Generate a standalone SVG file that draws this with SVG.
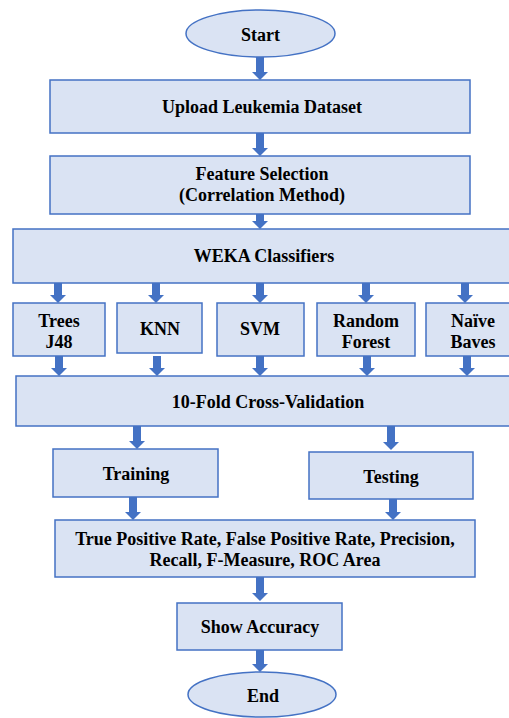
<svg xmlns="http://www.w3.org/2000/svg" width="509" height="718" viewBox="0 0 509 718">
<rect width="509" height="718" fill="#fff"/>
<g fill="#DAE3F3" stroke="#4472C4" stroke-width="1.5">
<g id="start"><ellipse cx="260.5" cy="33.5" rx="74.5" ry="23.5"/></g>
<g id="upload"><rect x="50" y="80" width="420" height="53"/></g>
<g id="feature"><rect x="50" y="156" width="420" height="58"/></g>
<g id="weka"><rect x="13" y="229" width="505" height="54"/></g>
<g id="trees"><rect x="13" y="303" width="92" height="53"/></g>
<g id="knn"><rect x="117" y="303" width="85" height="50"/></g>
<g id="svm"><rect x="217" y="303" width="87" height="53"/></g>
<g id="rf"><rect x="317" y="303" width="98" height="53"/></g>
<g id="nb"><rect x="426" y="303" width="92" height="53"/></g>
<g id="cv"><rect x="16" y="376" width="502" height="50"/></g>
<g id="training"><rect x="53" y="449" width="165" height="48"/></g>
<g id="testing"><rect x="309" y="452" width="164" height="47"/></g>
<g id="metrics"><rect x="55" y="520" width="420" height="57"/></g>
<g id="accuracy"><rect x="177" y="603" width="165" height="47"/></g>
<g id="end"><ellipse cx="262" cy="694.5" rx="74" ry="22.5"/></g>
</g>
<g id="labels">
<text x="260.5" y="41" text-anchor="middle" font-family="Liberation Serif" font-weight="bold" font-size="18" style="font-family:'Liberation Serif',serif">Start</text>
<text x="262" y="113" text-anchor="middle" font-family="Liberation Serif" font-weight="bold" font-size="18" style="font-family:'Liberation Serif',serif">Upload Leukemia Dataset</text>
<text x="262" y="180" text-anchor="middle" font-family="Liberation Serif" font-weight="bold" font-size="18" style="font-family:'Liberation Serif',serif">Feature Selection</text>
<text x="262" y="201" text-anchor="middle" font-family="Liberation Serif" font-weight="bold" font-size="18" style="font-family:'Liberation Serif',serif">(Correlation Method)</text>
<text x="264" y="262" text-anchor="middle" font-family="Liberation Serif" font-weight="bold" font-size="18" style="font-family:'Liberation Serif',serif">WEKA Classifiers</text>
<text x="59" y="327" text-anchor="middle" font-family="Liberation Serif" font-weight="bold" font-size="18" style="font-family:'Liberation Serif',serif">Trees</text>
<text x="59" y="348" text-anchor="middle" font-family="Liberation Serif" font-weight="bold" font-size="18" style="font-family:'Liberation Serif',serif">J48</text>
<text x="160" y="335" text-anchor="middle" font-family="Liberation Serif" font-weight="bold" font-size="18" style="font-family:'Liberation Serif',serif">KNN</text>
<text x="260" y="335" text-anchor="middle" font-family="Liberation Serif" font-weight="bold" font-size="18" style="font-family:'Liberation Serif',serif">SVM</text>
<text x="366" y="327" text-anchor="middle" font-family="Liberation Serif" font-weight="bold" font-size="18" style="font-family:'Liberation Serif',serif">Random</text>
<text x="366" y="348" text-anchor="middle" font-family="Liberation Serif" font-weight="bold" font-size="18" style="font-family:'Liberation Serif',serif">Forest</text>
<text x="473" y="327" text-anchor="middle" font-family="Liberation Serif" font-weight="bold" font-size="18" style="font-family:'Liberation Serif',serif">Na&#239;ve</text>
<text x="473" y="348" text-anchor="middle" font-family="Liberation Serif" font-weight="bold" font-size="18" style="font-family:'Liberation Serif',serif">Baves</text>
<text x="268" y="408" text-anchor="middle" font-family="Liberation Serif" font-weight="bold" font-size="18" style="font-family:'Liberation Serif',serif">10-Fold Cross-Validation</text>
<text x="136" y="480" text-anchor="middle" font-family="Liberation Serif" font-weight="bold" font-size="18" style="font-family:'Liberation Serif',serif">Training</text>
<text x="391" y="483" text-anchor="middle" font-family="Liberation Serif" font-weight="bold" font-size="18" style="font-family:'Liberation Serif',serif">Testing</text>
<text x="265" y="545" text-anchor="middle" font-family="Liberation Serif" font-weight="bold" font-size="18" style="font-family:'Liberation Serif',serif">True Positive Rate, False Positive Rate, Precision,</text>
<text x="265" y="566" text-anchor="middle" font-family="Liberation Serif" font-weight="bold" font-size="18" style="font-family:'Liberation Serif',serif">Recall, F-Measure, ROC Area</text>
<text x="260" y="633" text-anchor="middle" font-family="Liberation Serif" font-weight="bold" font-size="18" style="font-family:'Liberation Serif',serif">Show Accuracy</text>
<text x="263" y="702" text-anchor="middle" font-family="Liberation Serif" font-weight="bold" font-size="18" style="font-family:'Liberation Serif',serif">End</text>
</g>
<g id="connectors" fill="#4472C4">
<polygon points="256,57 264,57 264,72 268,72 260,80 252,72 256,72"/>
<polygon points="256,133 264,133 264,148 268,148 260,156 252,148 256,148"/>
<polygon points="256,214 264,214 264,221 268,221 260,229 252,221 256,221"/>
<polygon points="54,283 62,283 62,295 66,295 58,303 50,295 54,295"/>
<polygon points="152,283 160,283 160,295 164,295 156,303 148,295 152,295"/>
<polygon points="256,283 264,283 264,295 268,295 260,303 252,295 256,295"/>
<polygon points="362,283 370,283 370,295 374,295 366,303 358,295 362,295"/>
<polygon points="461,283 469,283 469,295 473,295 465,303 457,295 461,295"/>
<polygon points="55,356 63,356 63,368 67,368 59,376 51,368 55,368"/>
<polygon points="153,356 161,356 161,368 165,368 157,376 149,368 153,368"/>
<polygon points="256,356 264,356 264,368 268,368 260,376 252,368 256,368"/>
<polygon points="363,356 371,356 371,368 375,368 367,376 359,368 363,368"/>
<polygon points="463,356 471,356 471,368 475,368 467,376 459,368 463,368"/>
<polygon points="133,426 141,426 141,441 145,441 137,449 129,441 133,441"/>
<polygon points="387,426 395,426 395,442 399,442 391,450 383,442 387,442"/>
<polygon points="129,497 137,497 137,512 141,512 133,520 125,512 129,512"/>
<polygon points="389,499 397,499 397,512 401,512 393,520 385,512 389,512"/>
<polygon points="256,577 264,577 264,593 268,593 260,601 252,593 256,593"/>
<polygon points="256,650 264,650 264,664 268,664 260,672 252,664 256,664"/>
</g>
</svg>
